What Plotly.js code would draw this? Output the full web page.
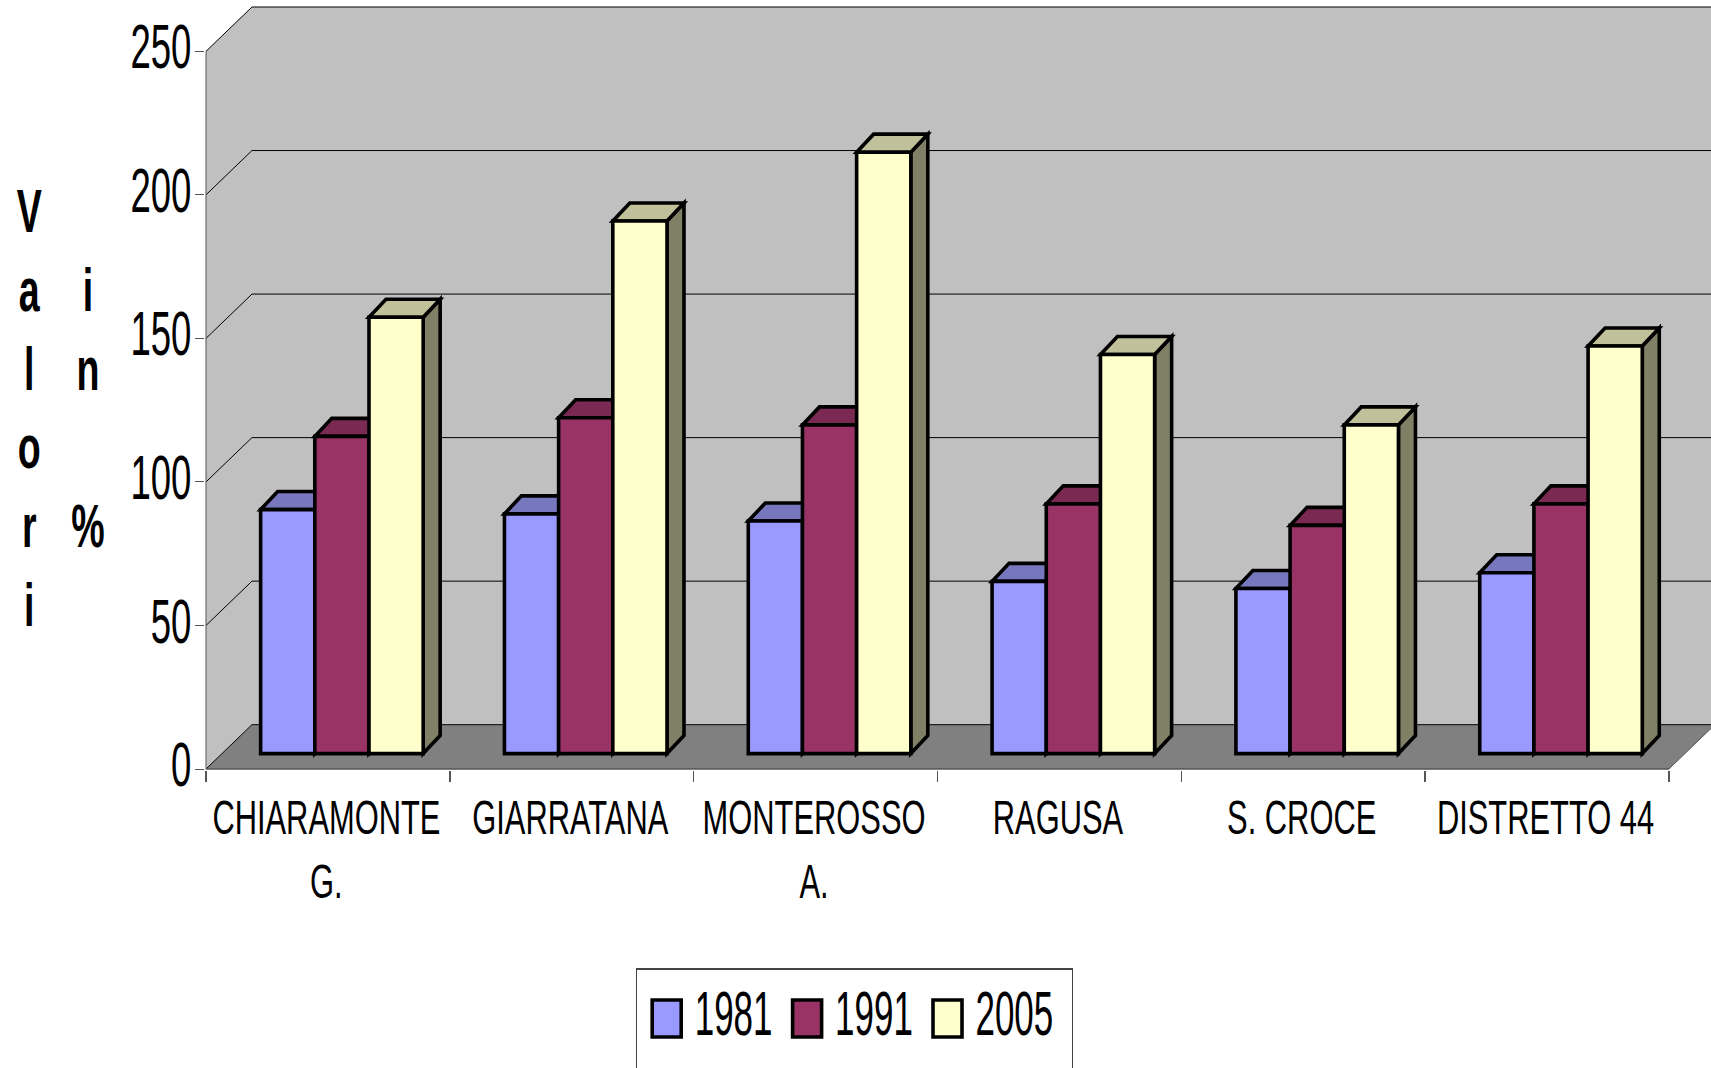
<!DOCTYPE html>
<html><head><meta charset="utf-8">
<script src="https://cdn.plot.ly/plotly-3.0.1.min.js"></script>
<style>html,body{margin:0;padding:0;background:#fff;overflow:hidden}</style>
</head><body><div id="chart" style="width:1711px;height:1068px"></div>
<script>
var categories = ["CHIARAMONTE<br>G.", "GIARRATANA", "MONTEROSSO<br>A.", "RAGUSA", "S. CROCE", "DISTRETTO 44"];
var years = ["1981", "1991", "2005"];
var values1981 = [85, 83.5, 81, 60, 57.5, 63];
var values1991 = [110.5, 117, 114.5, 87, 79.5, 87];
var values2005 = [152, 185.5, 209.5, 139, 114.5, 142];
var yTicks = [0, 50, 100, 150, 200, 250];
var frontColors = ["#9999FF", "#993366", "#FFFFCC"];
var topColors = ["#7777BD", "#7A2952", "#C0C09A"];
var sideColors = ["#5C5C99", "#5C1F3D", "#808066"];

var series = [values1981, values1991, values2005];
var catPx = 243.9, unitPx = 2.8696;
var wallDx = 46 / catPx, wallDy = 44.3 / unitPx;
var barDx = 17 / catPx, barDy = 18 / unitPx;
var shiftX = 14 / catPx, baseY = 15.4 / unitPx;
var barW = (1 - 1 / 3) / 3;
var edgeW = 3.6;

var axisX = [], centers = [], bounds = [];
categories.forEach(function (c, i) {
  axisX.push(i + 0.5 + shiftX);
  centers.push(i + 0.5);
  bounds.push(i);
});
bounds.push(categories.length);
var nCat = categories.length;

function poly(pts, fill, lineColor, lineW) {
  return {
    type: "path", xref: "x", yref: "y", layer: "below",
    path: "M" + pts.map(function (p) { return p[0] + " " + p[1]; }).join(" L") + " Z",
    fillcolor: fill, line: { color: lineColor, width: lineW }
  };
}
function seg(x0, y0, x1, y1, color, w) {
  return { type: "line", xref: "x", yref: "y", layer: "below", x0: x0, y0: y0, x1: x1, y1: y1, line: { color: color, width: w } };
}

var farX = nCat + 1;
var maxTick = yTicks[yTicks.length - 1];
var shapes = [
  poly([[0, 0], [wallDx, wallDy], [farX, wallDy], [farX, maxTick + wallDy], [wallDx, maxTick + wallDy], [0, maxTick]], "#C0C0C0", "rgba(0,0,0,0)", 0),
  poly([[0, 0], [wallDx, wallDy], [farX, wallDy], [nCat + wallDx, wallDy], [nCat, 0]], "#808080", "rgba(0,0,0,0)", 0)
];
yTicks.forEach(function (v) {
  shapes.push(seg(wallDx, v + wallDy, farX, v + wallDy, "#000000", 1));
  shapes.push(seg(0, v, wallDx, v + wallDy, "#000000", 1));
});
shapes.push(seg(0, 0, 0, maxTick, "#555555", 1));
shapes.push(seg(0, 0, nCat, 0, "#555555", 1.5));
shapes.push(seg(nCat, 0, nCat + wallDx, wallDy, "#555555", 1));

series.forEach(function (vals, s) {
  vals.forEach(function (v, i) {
    var x0 = axisX[i] + (s - 1.5) * barW, x1 = x0 + barW;
    var y0 = baseY, y1 = baseY + v;
    shapes.push(poly([[x1, y0], [x1 + barDx, y0 + barDy], [x1 + barDx, y1 + barDy], [x1, y1]], sideColors[s], "#000000", edgeW));
    shapes.push(poly([[x0, y1], [x1, y1], [x1 + barDx, y1 + barDy], [x0 + barDx, y1 + barDy]], topColors[s], "#000000", edgeW));
  });
});

var traces = series.map(function (vals, s) {
  return {
    type: "bar", name: years[s], x: axisX, y: vals,
    base: vals.map(function () { return baseY; }),
    marker: { color: frontColors[s], line: { color: "#000000", width: edgeW } },
    hoverinfo: "skip"
  };
});

var L = 204.5, R = 1711, T = 5, B = 769.7, zeroX = 205.5, zeroY = 768.7;
var pw = R - L, ph = B - T;
var layout = {
  width: 1711, height: 1068, paper_bgcolor: "#FFFFFF", plot_bgcolor: "#FFFFFF",
  margin: { l: L, r: 0, t: T, b: 1068 - B, autoexpand: false },
  barmode: "group", bargap: 1 / 3,
  font: { family: "Liberation Sans", color: "#000000" },
  xaxis: {
    range: [(L - zeroX) / catPx, (R - zeroX) / catPx], showgrid: false, zeroline: false, showline: false,
    tickmode: "array", tickvals: centers, ticktext: categories, ticks: "", ticklen: 0, tickangle: 0,
    ticklabeloverflow: "allow",
    tickfont: { size: 49, family: "Liberation Sans", color: "#000000" },
    ticklabelstandoff: 14,
    minor: { tickmode: "array", tickvals: bounds, ticks: "outside", ticklen: 11, tickcolor: "#555555", tickwidth: 1.5, showgrid: false }
  },
  yaxis: {
    range: [(zeroY - B) / unitPx, (zeroY - T) / unitPx], showgrid: false, zeroline: false, showline: false,
    tickmode: "array", tickvals: yTicks, ticktext: yTicks.map(String), ticks: "outside", ticklen: 9,
    tickcolor: "#555555", tickwidth: 1,
    tickfont: { size: 63, family: "Liberation Sans", color: "#000000" }
  },
  shapes: shapes,
  annotations: [
    { xref: "paper", yref: "paper", x: (28 - L) / pw, y: (B - 175) / ph, xanchor: "center", yanchor: "top", showarrow: false, align: "center",
      text: "<b>V<br>a<br>l<br>o<br>r<br>i</b>", font: { size: 60.6, family: "Liberation Sans", color: "#000000" } },
    { xref: "paper", yref: "paper", x: (87 - L) / pw, y: (B - 254) / ph, xanchor: "center", yanchor: "top", showarrow: false, align: "center",
      text: "<b>i<br>n<br> <br>%</b>", font: { size: 60.6, family: "Liberation Sans", color: "#000000" } }
  ],
  legend: {
    orientation: "h", xref: "container", yref: "container", x: 635.7 / 1711, y: 1 - 968 / 1068,
    xanchor: "left", yanchor: "top", bgcolor: "#FFFFFF", bordercolor: "#444444", borderwidth: 1.5,
    font: { size: 63, family: "Liberation Sans", color: "#000000" },
    itemwidth: 40, entrywidth: 85.4, entrywidthmode: "pixels", traceorder: "normal", itemclick: false, itemdoubleclick: false
  },
  hovermode: false
};

function squeeze(el, sx, mode, dy, dx) {
  var b = el.getBBox();
  var a = mode === "end" ? b.x + b.width : mode === "start" ? b.x : b.x + b.width / 2;
  var old = el.getAttribute("transform") || "";
  el.setAttribute("transform", old + " translate(" + (dx || 0) + "," + (dy || 0) + ") translate(" + a + ",0) scale(" + sx + ",1) translate(" + (-a) + ",0)");
}

Plotly.newPlot("chart", traces, layout, { displayModeBar: false, staticPlot: true }).then(function () {
  var root = document.getElementById("chart");
  root.querySelectorAll(".ytick text").forEach(function (t) { squeeze(t, 0.58, "end", -5, 9); });
  root.querySelectorAll(".xtick text").forEach(function (t) { squeeze(t, 0.63, "middle", 0, -1.5); });
  root.querySelectorAll(".annotation-text-g text").forEach(function (t) { squeeze(t, 0.62, "middle", 0, 0); });
  root.querySelectorAll(".legend .legendtext").forEach(function (t) { squeeze(t, 0.555, "start", -6.5, 3); });
  root.querySelectorAll(".legend .legendpoints path").forEach(function (p) {
    p.setAttribute("d", "M-14.5,-17H14.5V20H-14.5Z");
    p.style.strokeWidth = edgeW + "px";
  });
  var sb = root.querySelector(".legend .scrollbox");
  if (sb) { sb.setAttribute("transform", "translate(4.5,0)"); }
  var bg = root.querySelector(".legend .bg");
  if (bg) { bg.setAttribute("height", 140); bg.setAttribute("width", 436); }
});
</script></body></html>
